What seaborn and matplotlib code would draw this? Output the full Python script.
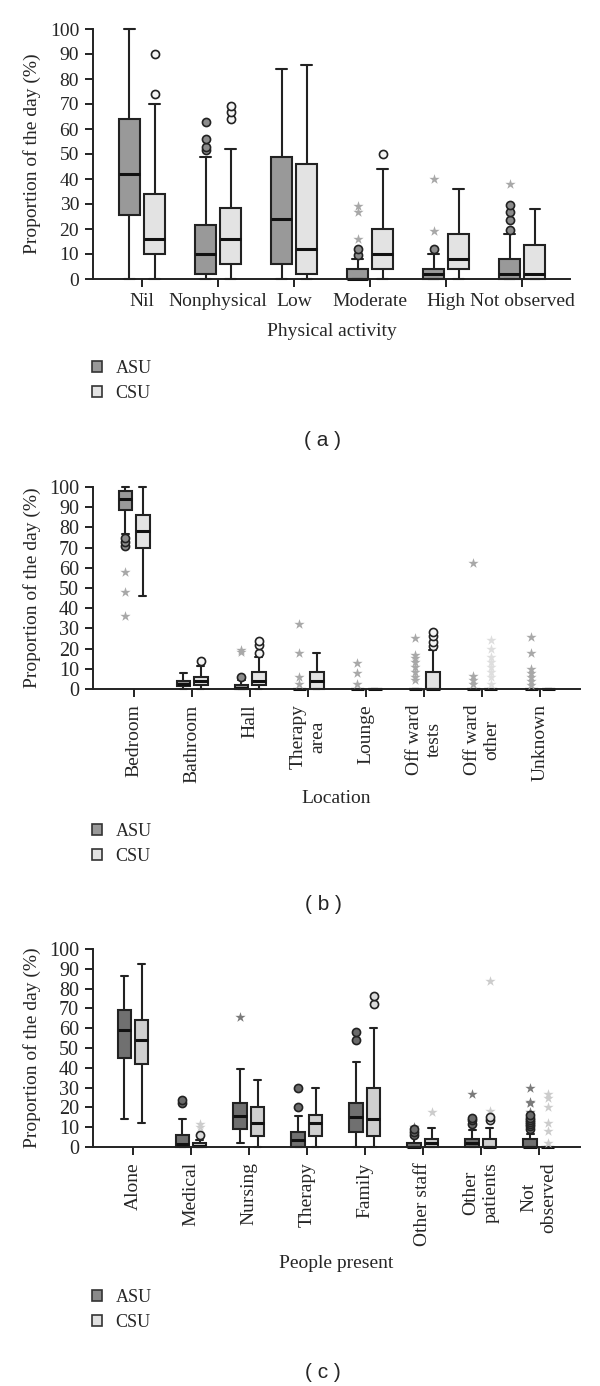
import pandas as pd
import numpy as np
import matplotlib.pyplot as plt
import seaborn as sns
from matplotlib.patches import Patch

# --- data: box summaries [low whisker, Q1, median, Q3, high whisker] (% of day) ---
groups = ["ASU", "CSU"]

# (a) physical activity
act_cats = ["Nil", "Nonphysical", "Low", "Moderate", "High", "Not observed"]
act_asu = [[0, 25.5, 42, 64, 100], [0, 2, 10, 21.5, 49], [0, 6, 24, 49, 84],
           [0, 0, 0, 4, 8], [0, 0, 2, 4, 10], [0, 0, 2, 8, 18]]
act_csu = [[0, 10, 16, 34, 70], [0, 6, 16, 28.5, 52], [0, 2, 12, 46, 85.5],
           [0, 4, 10, 20, 44], [0, 4, 8, 18, 36], [0, 0, 2, 13.8, 28]]
act_asu_circles = [[], [51.6, 53, 56, 62.7], [], [9.6, 12], [12], [19.6, 23.6, 27, 29.6]]
act_csu_circles = [[74, 90], [64, 66.7, 69.2], [], [50], [], []]
act_asu_stars = [[], [], [], [16, 26.8, 29.3], [19.2, 40], [38]]
act_csu_stars = [[], [], [], [], [], []]

# (b) location
loc_cats = ["Bedroom", "Bathroom", "Hall", "Therapy\narea", "Lounge",
            "Off ward\ntests", "Off ward\nother", "Unknown"]
loc_asu = [[76.7, 88.6, 94, 98, 100], [0, 1.5, 2.5, 4, 8], [0, 0, 0.5, 2, 4.5],
           [0, 0, 0, 0, 0], [0, 0, 0, 0, 0], [0, 0, 0, 0, 0], [0, 0, 0, 0, 0], [0, 0, 0, 0, 0]]
loc_csu = [[46, 70, 78, 86, 100], [0, 2, 4, 6, 11.5], [0, 2, 4, 8.3, 16],
           [0, 0, 4, 8.5, 18], [0, 0, 0, 0, 0], [0, 0, 0, 8.3, 19.5], [0, 0, 0, 0, 0], [0, 0, 0, 0, 0]]
loc_asu_circles = [[71, 72.6, 74.6], [], [6], [], [], [], [], []]
loc_csu_circles = [[], [14], [18, 22, 24], [], [], [21.5, 23.5, 26, 28], [], []]
loc_asu_stars = [[36, 48, 58], [], [18.2, 19.2], [2.3, 6, 18, 32], [2.3, 8, 12.7],
                 [4.5, 6.1, 8.6, 11, 13.5, 15.2, 16.8, 25.4], [2.3, 4.5, 6.4, 62.2],
                 [2, 4.1, 6.1, 8.1, 9.7, 17.7, 25.6]]
loc_csu_stars = [[], [], [], [], [], [], [2.3, 6, 8.6, 11, 13.5, 16, 20, 24.3], []]

# (c) people present
ppl_cats = ["Alone", "Medical", "Nursing", "Therapy", "Family", "Other staff",
            "Other\npatients", "Not\nobserved"]
ppl_asu = [[13.9, 45, 59, 69, 86.5], [0, 0, 1.7, 5.9, 13.9], [2, 9.3, 15.7, 22, 39.2],
           [0, 0, 3.7, 7.8, 15.7], [0, 7.8, 15.2, 22, 43], [0, 0, 0, 2, 5],
           [0, 0, 2, 4, 8.4], [0, 0, 0, 3.9, 6.8]]
ppl_csu = [[12.2, 42, 54, 64.2, 92.4], [0, 0, 0.5, 2, 3.5], [0, 5.6, 12.2, 20, 33.8],
           [0, 5.6, 12.2, 16, 30], [0, 5.6, 14, 30, 60], [0, 0, 2.2, 4, 9.8],
           [0, 0, 0, 4, 9.8], [0, 0, 0, 0, 0]]
ppl_asu_circles = [[], [22.3, 23.6], [], [20, 30], [54, 58.3], [5.9, 7.6, 9.3],
                   [11.8, 13.5, 14.4], [9.3, 10.5, 11.5, 12.5, 13.5, 14.5, 16]]
ppl_csu_circles = [[], [6], [], [], [72, 76.4], [], [13.5, 15.2], []]
ppl_asu_stars = [[], [], [65.9], [], [], [10], [27], [17.7, 22, 22.8, 29.6]]
ppl_csu_stars = [[], [10, 11.5], [], [], [], [17.7], [18, 84], [2, 8.1, 12.2, 20, 24.5, 26.7]]

# --- style ---
sns.set_style("ticks")
plt.rcParams['font.family'] = ['Liberation Serif', 'DejaVu Serif']
ink = "#222222"


def long_table(cats, asu, csu):
    rows = []
    for cat, a, c in zip(cats, asu, csu):
        rows += [(cat, "ASU", v) for v in a]
        rows += [(cat, "CSU", v) for v in c]
    return pd.DataFrame(rows, columns=["cat", "unit", "value"])


def draw_panel(ax, cats, asu, csu, circles, stars, box_cols, circ_cols, star_cols,
               width, gap, xlim, rotate, ytick_size):
    df = long_table(cats, asu, csu)
    sns.boxplot(data=df, x="cat", y="value", hue="unit", order=cats, hue_order=groups,
                palette=box_cols, width=width, gap=gap, whis=(0, 100), showfliers=False,
                saturation=1, linewidth=1.5, linecolor=ink, legend=False,
                medianprops={"linewidth": 2.2, "color": "#111111"}, ax=ax)
    off = width / 4
    for i in range(len(cats)):
        for k, dx in enumerate([-off, off]):
            pts = circles[k][i]
            if pts:
                ax.scatter([i + dx] * len(pts), pts, marker="o", s=34, facecolor=circ_cols[k],
                           edgecolor=ink, linewidth=1.2, zorder=5, clip_on=False)
            pts = stars[k][i]
            if pts:
                ax.scatter([i + dx] * len(pts), pts, marker="*", s=60, color=star_cols[k],
                           linewidth=0, zorder=4, clip_on=False)
    for art in ax.lines + ax.patches:
        art.set_clip_on(False)
    ax.set_xlim(*xlim)
    ax.set_ylim(0, 100)
    ax.set_yticks(range(0, 101, 10))
    ax.set_ylabel("Proportion of the day (%)", fontsize=14)
    ax.tick_params(axis="both", length=6, width=1.4, color=ink, labelsize=14, pad=4)
    ax.tick_params(axis="y", labelsize=ytick_size)
    if rotate:
        ax.tick_params(axis="x", labelrotation=90, pad=5)
    for sp in ["top", "right"]:
        ax.spines[sp].set_visible(False)
    for sp in ["left", "bottom"]:
        ax.spines[sp].set_linewidth(1.4)
        ax.spines[sp].set_color(ink)


def px_axes(fig, left, top, right, bottom, W=600, H=1386):
    return fig.add_axes([left / W, 1 - bottom / H, (right - left) / W, (bottom - top) / H])


def add_legend(fig, cols, top):
    handles = [Patch(facecolor=c, edgecolor="#333333", linewidth=1.2) for c in cols]
    fig.legend(handles, groups, loc="upper left", bbox_to_anchor=(92 / 600, 1 - top / 1386),
               frameon=False, fontsize=13, handlelength=0.55, handleheight=0.55,
               handletextpad=0.75, labelspacing=0.42, borderpad=0, borderaxespad=0)


fig = plt.figure(figsize=(6, 13.86), dpi=100)

# (a)
ax_a = px_axes(fig, 93, 29, 570, 279)
cols_a = ["#999999", "#e3e3e3"]
draw_panel(ax_a, act_cats, act_asu, act_csu,
           [act_asu_circles, act_csu_circles], [act_asu_stars, act_csu_stars],
           cols_a, ["#8c8c8c", "#f4f4f4"], ["#a8a8a8", "#d8d8d8"],
           0.66, 0.18, (-0.645, 5.63), False, 14)
ax_a.set_xlabel("Physical activity", fontsize=14)
ax_a.xaxis.set_label_coords(0.5, -0.175)
ax_a.yaxis.set_label_coords(-0.109, 0.5)
add_legend(fig, cols_a, 360)
fig.text(323 / 600, 1 - 440 / 1386, "( a )", ha="center", va="center",
         fontsize=15, family="Liberation Sans")

# (b)
ax_b = px_axes(fig, 93, 487, 580, 689)
cols_b = ["#999999", "#e3e3e3"]
draw_panel(ax_b, loc_cats, loc_asu, loc_csu,
           [loc_asu_circles, loc_csu_circles], [loc_asu_stars, loc_csu_stars],
           cols_b, ["#8c8c8c", "#f4f4f4"], ["#a8a8a8", "#dedede"],
           0.6, 0.22, (-0.71, 7.69), True, 14.5)
ax_b.set_xlabel("Location", fontsize=14)
ax_b.xaxis.set_label_coords(0.5, -0.5)
ax_b.yaxis.set_label_coords(-0.107, 0.5)
add_legend(fig, cols_b, 823)
fig.text(323 / 600, 1 - 904 / 1386, "( b )", ha="center", va="center",
         fontsize=15, family="Liberation Sans")

# (c)
ax_c = px_axes(fig, 93, 949, 580, 1147)
cols_c = ["#707070", "#cfcfcf"]
draw_panel(ax_c, ppl_cats, ppl_asu, ppl_csu,
           [ppl_asu_circles, ppl_csu_circles], [ppl_asu_stars, ppl_csu_stars],
           cols_c, ["#6a6a6a", "#dcdcdc"], ["#7a7a7a", "#cccccc"],
           0.6, 0.22, (-0.69, 7.71), True, 14.5)
ax_c.set_xlabel("People present", fontsize=14)
ax_c.xaxis.set_label_coords(0.5, -0.545)
ax_c.yaxis.set_label_coords(-0.107, 0.5)
add_legend(fig, ["#8a8a8a", "#e0e0e0"], 1289)
fig.text(323 / 600, 1 - 1373 / 1386, "( c )", ha="center", va="center",
         fontsize=15, family="Liberation Sans")

fig.savefig("out.png", dpi=100)
